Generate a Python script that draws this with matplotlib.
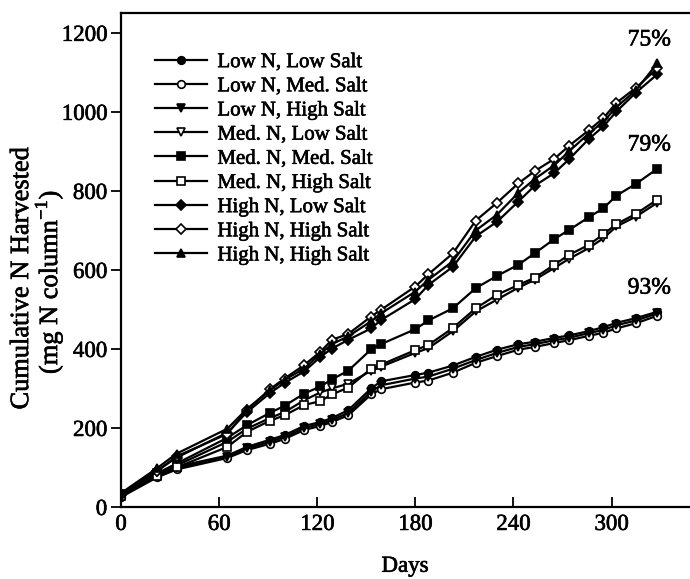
import matplotlib
matplotlib.use('Agg')
import matplotlib.pyplot as plt
import matplotlib.patheffects as pe

plt.rcParams['font.family'] = ['Liberation Serif', 'DejaVu Serif']
plt.rcParams['mathtext.fontset'] = 'custom'
plt.rcParams['mathtext.rm'] = 'Liberation Serif'

# harvest days
days = [0, 22, 34, 65, 77, 91, 100, 112, 122, 129, 139, 153, 159, 180, 188,
        203, 217, 230, 243, 253, 265, 274, 286, 295, 303, 315, 328]

# cumulative N harvested (mg N per column)
low_n_low_salt = [30, 82, 102, 130, 152, 170, 182, 205, 215, 225, 245, 300, 318, 334, 340,
                  358, 380, 398, 412, 418, 428, 434, 445, 455, 466, 478, 494]
low_n_med_salt = [25, 75, 95, 124, 144, 160, 172, 195, 205, 215, 232, 285, 298, 315, 320,
                  340, 365, 382, 398, 405, 415, 422, 433, 441, 452, 465, 484]
low_n_high_salt = [28, 78, 98, 127, 148, 165, 177, 200, 210, 220, 238, 292, 308, 325, 330,
                   350, 372, 390, 405, 412, 422, 428, 440, 448, 460, 472, 490]
med_n_low_salt = [30, 80, 105, 165, 198, 225, 240, 270, 290, 300, 312, 345, 355, 390, 402,
                  445, 495, 525, 555, 575, 605, 628, 655, 680, 710, 735, 770]
med_n_med_salt = [32, 85, 110, 175, 207, 238, 256, 287, 305, 323, 345, 399, 412, 450, 472,
                  503, 554, 585, 613, 642, 678, 701, 733, 756, 788, 818, 856]
med_n_high_salt = [28, 78, 100, 152, 190, 218, 232, 258, 268, 285, 302, 350, 360, 397, 410,
                   453, 503, 537, 562, 580, 613, 638, 663, 690, 716, 742, 778]
high_n_low_salt = [32, 92, 125, 188, 240, 288, 314, 343, 380, 401, 423, 452, 473, 526, 562,
                   608, 685, 722, 773, 813, 845, 880, 931, 963, 1001, 1049, 1095]
high_n_high_salt_a = [30, 90, 128, 185, 245, 298, 325, 359, 393, 423, 438, 482, 499, 558, 589,
                      642, 725, 770, 819, 850, 881, 914, 953, 984, 1023, 1061, 1110]
high_n_high_salt_b = [35, 98, 135, 198, 248, 295, 322, 350, 388, 412, 432, 470, 490, 545, 575,
                      622, 700, 740, 795, 830, 865, 900, 945, 975, 1012, 1055, 1123]

labels = ['Low N, Low Salt', 'Low N, Med. Salt', 'Low N, High Salt',
          'Med. N, Low Salt', 'Med. N, Med. Salt', 'Med. N, High Salt',
          'High N, Low Salt', 'High N, High Salt', 'High N, High Salt']
series = [low_n_low_salt, low_n_med_salt, low_n_high_salt,
          med_n_low_salt, med_n_med_salt, med_n_high_salt,
          high_n_low_salt, high_n_high_salt_a, high_n_high_salt_b]

# recovery percentages per N group
pct_labels = ['75%', '79%', '93%']
pct_x = [323, 323, 323]
pct_y = [1182, 916, 554]

# marker shape / fill per series
styles = [('o', 'black'), ('o', 'white'), ('v', 'black'),
          ('v', 'white'), ('s', 'black'), ('s', 'white'),
          ('D', 'black'), ('D', 'white'), ('^', 'black')]

# thicken glyphs a little, like a printed page
heavy = [pe.withStroke(linewidth=0.45, foreground='black')]

fig = plt.figure(figsize=(6.9, 5.79), dpi=100)
ax = fig.add_axes([0.1754, 0.1244, 0.8246, 0.853])

for y, lab, (m, fc) in zip(series, labels, styles):
    ms = 5.5 if m != 'D' else 5
    ax.plot(days, y, color='black', lw=1.6, marker=m, ms=ms,
            mfc=fc, mec='black', mew=1.2, label=lab)

for t, x, y in zip(pct_labels, pct_x, pct_y):
    ax.text(x, y, t, ha='center', va='center', fontsize=17, path_effects=heavy)

ax.set_xlim(0, 348)
ax.set_ylim(0, 1250)
ax.set_xticks([0, 60, 120, 180, 240, 300])
ax.set_yticks([0, 200, 400, 600, 800, 1000, 1200])
ax.tick_params(axis='x', direction='in', length=7, width=1.3, labelsize=16.5, pad=5)
ax.tick_params(axis='y', direction='out', length=7, width=1.3, labelsize=16.5, pad=3)
for lbl in ax.get_xticklabels() + ax.get_yticklabels():
    lbl.set_path_effects(heavy)
ax.spines['right'].set_visible(False)
for s in ['left', 'bottom', 'top']:
    ax.spines[s].set_linewidth(1.6)

leg = ax.legend(loc='upper left', bbox_to_anchor=(0.045, 0.937), frameon=False,
                fontsize=15, handlelength=2.5, handletextpad=0.5,
                labelspacing=0.22, borderaxespad=0)
for t in leg.get_texts():
    t.set_path_effects(heavy)

fig.text(0.032, 0.52, 'Cumulative N Harvested', rotation=90,
         ha='center', va='center', fontsize=19, path_effects=heavy)
fig.text(0.071, 0.513, '(mg N column$^{-1}$)', rotation=90,
         ha='center', va='center', fontsize=19, path_effects=heavy)
fig.text(0.587, 0.022, 'Days', ha='center', va='center', fontsize=16.5,
         path_effects=heavy)

fig.savefig('out.png', dpi=100)
